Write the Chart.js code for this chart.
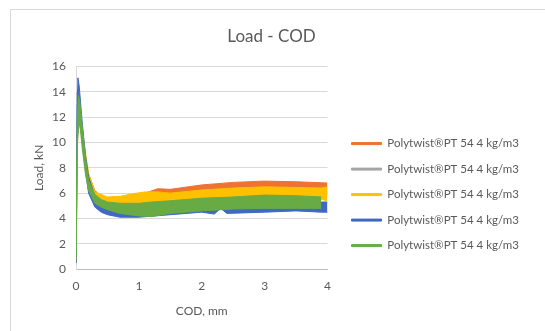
<!DOCTYPE html>
<html>
	<head>
		<meta charset="utf-8" />
		<title>Load - COD</title>
		<script src="https://cdn.jsdelivr.net/npm/chart.js"></script>
		<style>
			html,
			body {
				margin: 0;
				padding: 0;
				background: #fff;
				overflow: hidden;
			}
			.frame {
				position: absolute;
				left: 10px;
				top: 9px;
				width: 560px;
				height: 360px;
				border: 1px solid #d9d9d9;
			}
			.chart-container {
				position: absolute;
				left: 0;
				top: 0;
				width: 545px;
				height: 331px;
			}
		</style>
	</head>
	<body>
		<div class="frame"></div>
		<div class="chart-container">
			<canvas id="codChart"></canvas>
		</div>

		<script>
			const seriesLabel = "Polytwist®PT 54 4 kg/m3";
			const colors = ["#EE7230", "#A5A5A5", "#FFC000", "#3F69C4", "#68AB45"];

			const orangeX = [0, 0.03, 0.05, 0.1, 0.15, 0.2, 0.3, 0.4, 0.5, 0.7, 0.9, 1.1, 1.3, 1.5, 2.0, 2.5, 3.0, 3.5, 4.0];
			const orangeUpper = [0.5, 12.5, 13, 11, 9, 7.5, 6.2, 5.8, 5.6, 5.6, 5.8, 6.0, 6.35, 6.3, 6.65, 6.85, 6.95, 6.9, 6.8];
			const orangeLower = [0.5, 12, 12.5, 10, 8, 6.8, 5.6, 5.3, 5.1, 5.1, 5.1, 5.3, 5.5, 5.6, 5.8, 6.0, 6.1, 6.1, 6.0];

			const grayX = [];
			const grayUpper = [];
			const grayLower = [];

			const yellowX = [0, 0.03, 0.05, 0.1, 0.15, 0.2, 0.3, 0.4, 0.5, 0.7, 0.9, 1.1, 1.3, 1.5, 2.0, 2.5, 3.0, 3.5, 3.9, 4.0];
			const yellowUpper = [0.5, 12.5, 13.2, 11.2, 9.2, 7.6, 6.1, 5.9, 5.7, 5.75, 5.95, 6.1, 6.1, 6.0, 6.25, 6.4, 6.5, 6.45, 6.4, 6.5];
			const yellowLower = [0.5, 12, 12.5, 10.2, 8.2, 6.8, 5.5, 5.2, 5.0, 4.9, 4.9, 5.0, 5.1, 5.2, 5.4, 5.5, 5.5, 5.5, 5.5, 5.4];

			const blueX = [0, 0.02, 0.03, 0.05, 0.1, 0.15, 0.2, 0.3, 0.4, 0.5, 0.7, 1.0, 1.5, 2.0, 2.2, 2.3, 2.4, 3.0, 3.5, 3.9, 4.0];
			const blueUpper = [0.5, 14, 15.1, 14.5, 11.5, 9, 7.3, 5.8, 5.3, 5.0, 4.9, 4.9, 5.1, 5.3, 5.4, 5.4, 5.4, 5.5, 5.5, 5.3, 5.3];
			const blueLower = [0.5, 13, 14.2, 13, 10, 7.8, 6.0, 4.9, 4.5, 4.3, 4.1, 4.1, 4.3, 4.5, 4.35, 4.8, 4.4, 4.5, 4.6, 4.5, 4.5];

			const greenX = [0, 0.02, 0.04, 0.06, 0.1, 0.15, 0.2, 0.3, 0.4, 0.5, 0.7, 1.0, 1.2, 1.5, 2.0, 2.5, 3.0, 3.5, 3.9];
			const greenUpper = [0.8, 12, 13.7, 13.2, 11.2, 8.8, 7.0, 5.9, 5.5, 5.3, 5.2, 5.2, 5.3, 5.4, 5.6, 5.7, 5.85, 5.8, 5.7];
			const greenLower = [0.8, 10, 11, 11.5, 9.5, 7.5, 6.2, 5.2, 4.9, 4.7, 4.4, 4.2, 4.15, 4.4, 4.6, 4.75, 4.8, 4.8, 4.8];

			const yTicks = [0, 2, 4, 6, 8, 10, 12, 14, 16];
			const xTicks = [0, 1, 2, 3, 4];

			const series = [
				{ x: orangeX, upper: orangeUpper, lower: orangeLower },
				{ x: grayX, upper: grayUpper, lower: grayLower },
				{ x: yellowX, upper: yellowUpper, lower: yellowLower },
				{ x: blueX, upper: blueUpper, lower: blueLower },
				{ x: greenX, upper: greenUpper, lower: greenLower },
			];

			function toPoints(xs, ys) {
				return xs.map((x, i) => ({ x: x, y: ys[i] }));
			}

			const datasets = [];
			series.forEach((s, i) => {
				const color = colors[i];
				// later series sit on top, like in the spreadsheet
				const order = series.length - i;
				datasets.push({
					label: seriesLabel,
					data: toPoints(s.x, s.upper),
					borderColor: color,
					backgroundColor: color,
					borderWidth: 1,
					pointRadius: 0,
					tension: 0,
					fill: false,
					order: order,
				});
				datasets.push({
					label: "",
					data: toPoints(s.x, s.lower),
					borderColor: color,
					backgroundColor: color,
					borderWidth: 1,
					pointRadius: 0,
					tension: 0,
					fill: "-1",
					order: order,
				});
			});

			const textColor = "#595959";
			const fontFamily = "Lato, 'Liberation Sans', sans-serif";

			const ctx = document.getElementById("codChart").getContext("2d");
			new Chart(ctx, {
				type: "line",
				data: { datasets },
				options: {
					responsive: true,
					maintainAspectRatio: false,
					animation: false,
					layout: {
						padding: { left: 14, right: 16, top: 26, bottom: 9 },
					},
					scales: {
						x: {
							type: "linear",
							min: 0,
							max: 4,
							afterBuildTicks: (axis) => {
								axis.ticks = xTicks.map((v) => ({ value: v }));
							},
							grid: { drawOnChartArea: false, drawTicks: false },
							border: { display: true, color: "#bfbfbf" },
							ticks: {
								color: textColor,
								padding: 10,
								font: { family: fontFamily, size: 12 },
							},
							title: {
								display: true,
								text: "COD, mm",
								color: textColor,
								padding: { top: 0 },
								font: { family: fontFamily, size: 12 },
							},
						},
						y: {
							min: 0,
							max: 16,
							afterBuildTicks: (axis) => {
								axis.ticks = yTicks.map((v) => ({ value: v }));
							},
							afterFit: (axis) => {
								axis.width = 62;
							},
							grid: { color: "#d9d9d9", drawTicks: false },
							border: { display: true, color: "#d9d9d9" },
							ticks: {
								color: textColor,
								padding: 10,
								font: { family: fontFamily, size: 12 },
							},
							title: {
								display: true,
								text: "Load, kN",
								color: textColor,
								padding: { top: 18, bottom: 0 },
								font: { family: fontFamily, size: 12 },
							},
						},
						// empty spacer between plot and legend
						gap: {
							position: "right",
							display: true,
							grid: { display: false },
							border: { display: false },
							ticks: { display: false },
							afterFit: (axis) => {
								axis.width = 10;
							},
						},
					},
					plugins: {
						title: {
							display: true,
							text: "Load - COD",
							color: textColor,
							padding: { top: 0, bottom: 20 },
							font: { family: fontFamily, size: 17, weight: "normal" },
						},
						legend: {
							position: "right",
							maxWidth: 220,
							title: {
								display: true,
								text: " ",
								padding: { top: 40, bottom: 0 },
								font: { size: 1 },
							},
							labels: {
								color: textColor,
								boxWidth: 30,
								boxHeight: 2,
								padding: 14,
								font: { family: fontFamily, size: 11.5 },
								filter: (item) => item.datasetIndex % 2 === 0,
								sort: (a, b) => a.datasetIndex - b.datasetIndex,
							},
						},
						tooltip: { enabled: false },
					},
				},
			});
		</script>
	</body>
</html>
